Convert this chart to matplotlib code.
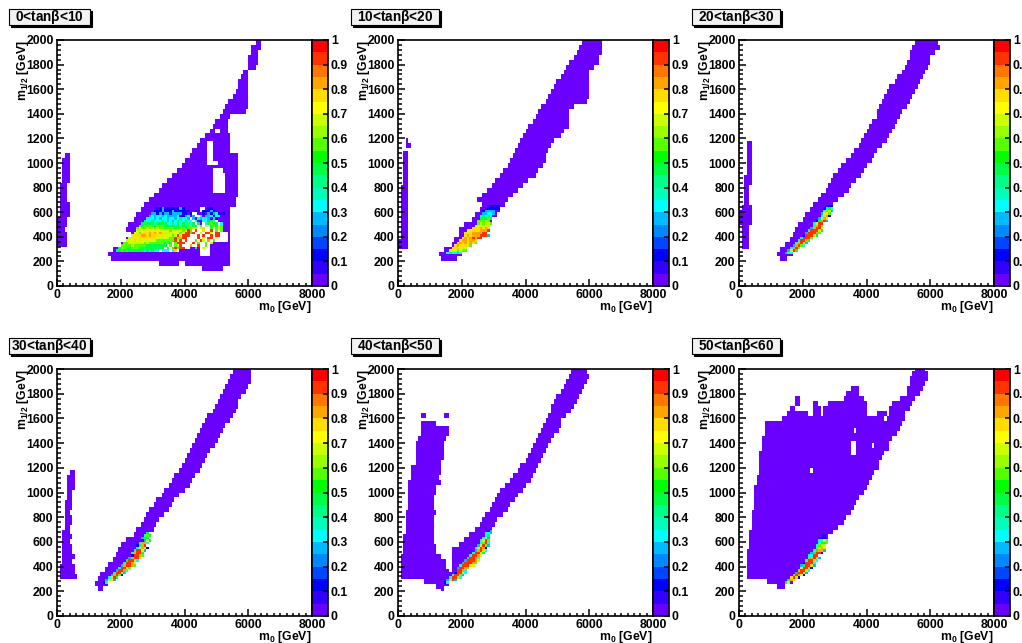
import numpy as np
import matplotlib
matplotlib.use("Agg")
import matplotlib.pyplot as plt
from matplotlib.colors import ListedColormap, BoundaryNorm
from matplotlib.patches import Rectangle

plt.rcParams['font.family'] = 'Liberation Sans'
plt.rcParams['font.weight'] = 'bold'
plt.rcParams['mathtext.fontset'] = 'custom'
plt.rcParams['mathtext.rm'] = 'Liberation Sans:bold'
plt.rcParams['mathtext.bf'] = 'Liberation Sans:bold'
plt.rcParams['mathtext.it'] = 'Liberation Sans'

titles = ["0<tan$\\beta$<10", "10<tan$\\beta$<20", "20<tan$\\beta$<30",
          "30<tan$\\beta$<40", "40<tan$\\beta$<50", "50<tan$\\beta$<60"]
x_ticks = [0, 2000, 4000, 6000, 8000]
y_ticks = [0, 200, 400, 600, 800, 1000, 1200, 1400, 1600, 1800, 2000]
z_ticks = [0, 0.1, 0.2, 0.3, 0.4, 0.5, 0.6, 0.7, 0.8, 0.9, 1]
z_labels = ["0", "0.1", "0.2", "0.3", "0.4", "0.5", "0.6", "0.7", "0.8", "0.9", "1"]
palette = ["#6a00ff", "#3300ff", "#0000ff", "#0045ff", "#0088ff", "#00bbff", "#00ffff",
           "#00ffbb", "#00ff88", "#00ff44", "#00ff00", "#55ff00", "#99ff00", "#ccff00",
           "#ffff00", "#ffdd00", "#ffa500", "#ff7700", "#ff3300", "#ff0000"]

# purple areas: rows are 40 GeV high, m12 is the row's lower edge
t1_strip_m12 = [320, 360, 400, 440, 480, 520, 560, 600, 640, 680, 720, 760, 800, 840, 880, 920, 960, 1000, 1040]
t1_strip_lo = [60, 60, 60, 60, 60, 60, 80, 80, 100, 100, 110, 110, 130, 160, 170, 170, 190, 220, 250]
t1_strip_hi = [260, 260, 260, 230, 300, 260, 330, 330, 330, 250, 250, 250, 250, 330, 330, 330, 330, 350, 350]
t1_wedge_m12 = [200, 240, 280, 320, 360, 400, 440, 480, 520, 560, 600, 640, 680, 720, 760, 800, 840, 880, 920, 960,
                1000, 1040, 1080, 1120, 1160, 1200, 1240, 1280, 1320, 1360, 1400, 1440, 1480, 1520, 1560, 1600,
                1640, 1680, 1720]
t1_wedge_lo = [1740, 1620, 1800, 2000, 2180, 2330, 2200, 2300, 2430, 2530, 2650, 2750, 2930, 3070, 3200, 3350, 3500,
               3650, 3800, 3950, 4020, 4200, 4280, 4420, 4550, 4700, 4800, 4950, 5020, 5100, 5200, 5300, 5430, 5530,
               5600, 5680, 5750, 5800, 5900]
t1_wedge_hi = [5440, 5440, 5440, 5440, 5440, 5440, 5440, 5440, 5440, 5440, 5440, 5540, 5560, 5620, 5620, 5650, 5650,
               5650, 5650, 5650, 5650, 5650, 5400, 5440, 5400, 5400, 5350, 5350, 5300, 5400, 5900, 6000, 6000, 6000,
               6000, 6000, 6000, 5950, 5950]
t1_extra_m12 = [120, 160, 160, 160, 1760, 1800, 1840, 1880, 1920, 1960]
t1_extra_lo = [4560, 3240, 4000, 4600, 6050, 6070, 6070, 6090, 6120, 6280]
t1_extra_hi = [5200, 3800, 4500, 5440, 6200, 6300, 6300, 6300, 6330, 6380]
t1_hole_m12 = [240, 280, 320, 360, 400, 440, 560, 600, 760, 800, 840, 880, 920, 980, 1020, 1060, 1100, 1140, 1240, 1360]
t1_hole_lo = [4550, 4550, 4500, 4500, 4600, 4650, 4300, 4500, 4920, 4920, 4920, 4920, 4920, 4720, 4720, 4720, 4720, 4720, 5000, 5050]
t1_hole_hi = [4800, 4800, 4800, 5300, 5300, 4800, 4400, 4600, 5280, 5280, 5280, 5280, 5200, 5020, 4880, 4880, 4880, 4880, 5060, 5100]

t2_strip_m12 = [300, 340, 380, 420, 460, 500, 540, 580, 620, 660, 700, 740, 780, 820, 860, 900, 940, 980, 1020, 1060, 1120, 1160]
t2_strip_lo = [30, 30, 100, 100, 100, 100, 100, 100, 100, 100, 100, 100, 100, 160, 160, 160, 160, 160, 160, 160, 240, 240]
t2_strip_hi = [315, 315, 260, 315, 315, 315, 315, 315, 315, 315, 315, 315, 315, 315, 315, 315, 315, 315, 315, 315, 380, 320]
t2_band_m12 = [200, 240, 280, 320, 360, 400, 440, 480, 520, 560, 600, 640, 680, 720, 760, 800, 840, 880, 920, 960,
               1000, 1040, 1080, 1120, 1160, 1200, 1240, 1280, 1320, 1360, 1400, 1440, 1480, 1520, 1560, 1600,
               1640, 1680, 1720, 1760, 1800, 1840, 1880, 1920, 1960]
t2_band_lo = [1400, 1300, 1500, 1700, 1800, 1950, 1950, 2150, 2350, 2400, 2600, 2650, 2550, 2650, 2850, 2980, 3080,
              3200, 3300, 3450, 3520, 3600, 3680, 3780, 3880, 3950, 4030, 4130, 4250, 4350, 4450, 4530, 4680, 4780,
              4850, 4950, 5020, 5150, 5250, 5350, 5420, 5550, 5650, 5700, 5800]
t2_band_hi = [1800, 1950, 2150, 2300, 2400, 2550, 2750, 2850, 2950, 3050, 3200, 3300, 3430, 3600, 3750, 3900, 4050,
              4250, 4350, 4500, 4570, 4640, 4700, 4760, 4850, 5080, 5150, 5300, 5330, 5350, 5350, 5500, 5900, 5950,
              6000, 6000, 6000, 5950, 6000, 6150, 6250, 6300, 6400, 6400, 6400]

t3_strip_m12 = [300, 340, 380, 420, 460, 500, 540, 580, 620, 660, 700, 740, 780, 820, 860, 900, 940, 980, 1020, 1060, 1100, 1140]
t3_strip_lo = [100, 100, 100, 100, 100, 70, 70, 70, 80, 170, 170, 170, 170, 170, 170, 240, 240, 240, 280, 290, 290, 300]
t3_strip_hi = [320, 320, 320, 320, 320, 370, 400, 330, 330, 300, 290, 290, 290, 380, 380, 380, 370, 400, 400, 400, 400, 400]
t3_band_m12 = t2_band_m12
t3_band_lo = [1350, 1240, 1320, 1500, 1620, 1730, 1820, 1900, 2000, 2080, 2240, 2380, 2520, 2620, 2760, 2860, 2940,
              3020, 3150, 3270, 3400, 3560, 3660, 3760, 3880, 3980, 4050, 4120, 4210, 4320, 4370, 4440, 4540, 4620,
              4690, 4780, 4880, 5020, 5130, 5200, 5280, 5370, 5400, 5500, 5560]
t3_band_hi = [1520, 1650, 1800, 1950, 2100, 2260, 2400, 2520, 2640, 2780, 2860, 2960, 3060, 3220, 3380, 3520, 3660,
              3800, 3900, 4000, 4100, 4200, 4320, 4450, 4580, 4680, 4740, 4820, 4940, 5020, 5120, 5220, 5350, 5430,
              5480, 5540, 5620, 5700, 5800, 5880, 5950, 6000, 6100, 6250, 6180]

t4_strip_m12 = [310, 350, 390, 430, 470, 510, 550, 590, 630, 670, 710, 750, 790, 830, 870, 910, 950, 990, 1030, 1070, 1110, 1150]
t4_strip_lo = [100, 100, 130, 160, 180, 190, 200, 200, 200, 210, 250, 250, 250, 250, 250, 280, 330, 360, 370, 370, 380, 420]
t4_strip_hi = [580, 500, 520, 460, 520, 440, 480, 400, 440, 370, 370, 460, 460, 400, 420, 440, 470, 470, 540, 540, 540, 540]
t4_band_m12 = t2_band_m12
t4_band_lo = [1300, 1250, 1300, 1400, 1550, 1660, 1780, 1880, 1950, 2060, 2200, 2400, 2520, 2680, 2780, 2860, 2950,
              3060, 3150, 3290, 3420, 3530, 3630, 3730, 3840, 3940, 4030, 4080, 4200, 4290, 4360, 4450, 4500, 4600,
              4680, 4780, 4880, 5000, 5100, 5180, 5240, 5310, 5420, 5480, 5540]
t4_band_hi = [1430, 1560, 1700, 1800, 1930, 2060, 2240, 2320, 2470, 2600, 2750, 2870, 3000, 3100, 3200, 3300, 3450,
              3560, 3680, 3820, 3970, 4120, 4220, 4300, 4420, 4500, 4600, 4700, 4800, 4900, 5000, 5080, 5150, 5250,
              5400, 5500, 5540, 5620, 5680, 5750, 5900, 6000, 6010, 6010, 6010]

t5_blob_m12 = [300, 340, 380, 420, 460, 500, 540, 580, 620, 660, 700, 740, 780, 820, 860, 900, 940, 980, 1020, 1060, 1100,
               1140, 1180, 1220, 1260, 1300, 1340, 1380, 1420, 1460, 1500, 1540, 1600, 1600]
t5_blob_lo = [140, 140, 140, 140, 140, 170, 190, 210, 210, 250, 290, 300, 310, 310, 320, 340, 350, 370, 380, 390, 440,
              460, 470, 590, 600, 620, 630, 630, 700, 730, 730, 730, 790, 1500]
t5_blob_hi = [1650, 1600, 1450, 1500, 1300, 1200, 1150, 1100, 1100, 1100, 1100, 1100, 1100, 1150, 1100, 1100, 1100, 1130,
              1180, 1300, 1250, 1350, 1350, 1330, 1370, 1390, 1410, 1420, 1480, 1550, 1550, 1200, 860, 1560]
t5_low_m12 = [220, 260]
t5_low_lo = [1200, 870]
t5_low_hi = [1400, 1400]
t5_band_m12 = t2_band_m12
t5_band_lo = [1360, 1230, 1480, 1650, 1700, 1700, 1700, 1680, 1750, 1990, 2100, 2280, 2430, 2560, 2680, 2780, 2880,
              2980, 3070, 3170, 3270, 3390, 3540, 3670, 3760, 3900, 4010, 4090, 4170, 4260, 4330, 4430, 4530, 4600,
              4650, 4740, 4810, 4850, 4930, 5030, 5150, 5240, 5290, 5400, 5460]
t5_band_hi = [1420, 1560, 1730, 1880, 2050, 2200, 2330, 2450, 2530, 2650, 2730, 2830, 2930, 3030, 3120, 3260, 3400,
              3510, 3620, 3740, 3860, 3990, 4090, 4200, 4280, 4350, 4430, 4500, 4600, 4700, 4780, 4880, 4970, 5050,
              5100, 5240, 5420, 5500, 5560, 5620, 5720, 5780, 5850, 5930, 5900]

t6_main_m12 = [300, 340, 380, 420, 460, 500, 540, 580, 620, 660, 700, 740, 780, 820, 860, 900, 940, 980, 1020, 1060, 1100,
               1140, 1180, 1220, 1260, 1300, 1340, 1380, 1420, 1460, 1500, 1540]
t6_main_lo = [240, 240, 250, 280, 290, 300, 320, 350, 370, 380, 400, 420, 450, 470, 480, 510, 530, 540, 550, 600, 620,
              640, 650, 680, 690, 710, 740, 760, 790, 800, 820, 870]
t6_main_hi = [1700, 1900, 2050, 2200, 2350, 2500, 2600, 2720, 2800, 2950, 3100, 3260, 3340, 3450, 3600, 3640, 3750, 3900,
              3950, 4050, 4150, 4220, 4350, 4370, 4480, 4540, 4650, 4700, 4800, 4920, 4980, 5080]
t6_top_m12 = [220, 260, 1580, 1580, 1620, 1620, 1620, 1620, 1620, 1660, 1660, 1660, 1660, 1700, 1700, 1700, 1700, 1740, 1740, 1740,
              1780, 1780, 1820, 1820, 1860, 1900, 1940, 1980]
t6_top_lo = [1230, 920, 1400, 4700, 1550, 2330, 2690, 4360, 4730, 1600, 2380, 2700, 4790, 1810, 2330, 2860, 4860, 1810, 3330, 5100,
             3400, 5280, 3590, 5350, 5400, 5430, 5470, 5520]
t6_top_hi = [1440, 1650, 4500, 5200, 2120, 2540, 4000, 4580, 5200, 1760, 2540, 3990, 5310, 1920, 2440, 3950, 5420, 1860, 3900, 5500,
             3750, 5620, 3700, 5720, 5800, 5900, 5900, 5800]
t6_hole_m12 = [1160, 1300, 1340, 1380, 1480, 1360]
t6_hole_lo = [2260, 3540, 3540, 3540, 3610, 4170]
t6_hole_hi = [2310, 3630, 3630, 3630, 3670, 4230]

# coloured cells, 20 GeV rows and 80 GeV columns. digit = tenths of z, "-" keeps what is there, "_" is empty
t1_core_m12 = [620, 600, 580, 560, 540, 520, 500, 480, 460, 440, 420, 400, 380, 360, 340, 320, 300, 280]
t1_core_m0 = [3120, 3040, 2960, 2880, 2800, 2720, 2640, 2560, 2480, 2480, 2400, 2320, 2240, 2160, 2080, 2000, 1920, 1840]
t1_core_z = ["01201110121---------01",
             "11121112111100--1--11121",
             "22121221222211-1----1-2123101",
             "2323323222231123-2-_3-223133",
             "33323233233234332_2-32332-41",
             "4334333432323433433_3--33243_-",
             "444443444433434343534_4-_34544_3",
             "54555545554444445445544_5_6_45465",
             "565565656555555455545566_67__5_565",
             "6767676766666566665698_9__7__9_5_5",
             "665777878787676666579949__6_996_99",
             "67778878777676665696999___9_9__9_99",
             "66767777777666665595899____9_6_99_6",
             "6667676666665555555969_9___5_96_8_5",
             "5566666656555555454_5999___9_5__5_6",
             "555565555544444444_5_569___8__9__5",
             "455445554444444444_4_59599__--4--6",
             "44545444444343433_333_37_--"]
t2_core_m12 = [640, 620, 600, 580, 560, 540, 520, 500, 480, 460, 440, 420, 400, 380, 360, 340, 320, 300, 280, 260]
t2_core_m0 = [2800, 2720, 2640, 2640, 2560, 2560, 2480, 2480, 2400, 2320, 2160, 2080, 2080, 2000, 1920, 1840, 1760, 1680, 1600, 1520]
t2_core_z = ["00011", "011111", "12222", "22332", "34343", "44454", "55565", "565665", "666676", "7778787",
             "667778889", "777888899", "7878889992", "78789899", "7887887", "78787875", "7877775", "777666", "6665655", "343343"]
t3_core_m12 = [640, 620, 600, 580, 560, 540, 520, 500, 480, 460, 440, 420, 400, 380, 360, 340, 320, 300, 280, 260]
t3_core_m0 = [2720, 2640, 2640, 2560, 2560, 2480, 2400, 2320, 2320, 2240, 2160, 2080, 2000, 1920, 1840, 1760, 1680, 1600, 1520, 1440]
t3_core_z = ["011", "1343", "3562", "2675", "3781", "2687", "14892", "3699", "5895", "28996", "399964", "299985", "199974",
             "39995", "39984", "38962", "28953", "3895", "2794", "253"]
t4_core_m12 = [660, 640, 620, 600, 580, 560, 540, 520, 500, 480, 460, 440, 420, 400, 380, 360, 340, 320, 300, 280, 260]
t4_core_m0 = [2800, 2720, 2640, 2640, 2560, 2480, 2480, 2400, 2320, 2320, 2240, 2160, 2080, 2000, 1920, 1840, 1760, 1680, 1600, 1520, 1440]
t4_core_z = ["4", "354", "244", "0274", "3883", "1489", "37861", "39962", "38994", "19985", "28996", "49973", "39986",
             "289985", "39975", "29983", "39962", "28951", "3794", "2672", "13"]
t5_core_m12 = [680, 660, 640, 620, 600, 580, 560, 540, 520, 500, 480, 460, 440, 420, 400, 380, 360, 340, 320, 300, 280, 260]
t5_core_m0 = [2800, 2720, 2720, 2640, 2560, 2560, 2480, 2400, 2400, 2320, 2240, 2160, 2080, 2000, 1920, 1840, 1840, 1760, 1680, 1600, 1520, 1440]
t5_core_z = ["02", "332", "34", "372", "3795", "3593", "26952", "37981", "28973", "39974", "39986", "49983", "299986", "299985",
             "399976", "29985", "9983", "19963", "39952", "39973", "2792", "13"]
t6_core_m12 = [640, 620, 600, 580, 560, 540, 520, 500, 480, 460, 440, 420, 400, 380, 360, 340, 320, 300, 280, 260]
t6_core_m0 = [2560, 2480, 2480, 2480, 2400, 2400, 2320, 2240, 2160, 2160, 2080, 2000, 1920, 1920, 1840, 1760, 1680, 1600, 1520, 1440]
t6_core_z = ["00", "011", "3565", "3445", "3566", "5786", "34882", "24991", "3399", "58972", "39973", "19993", "249972",
             "79961", "59963", "29962", "59861", "7971", "487", "46"]

# bands and holes for each panel, in the same order as titles
filled = [[(t1_strip_m12, t1_strip_lo, t1_strip_hi), (t1_wedge_m12, t1_wedge_lo, t1_wedge_hi), (t1_extra_m12, t1_extra_lo, t1_extra_hi)],
          [(t2_strip_m12, t2_strip_lo, t2_strip_hi), (t2_band_m12, t2_band_lo, t2_band_hi)],
          [(t3_strip_m12, t3_strip_lo, t3_strip_hi), (t3_band_m12, t3_band_lo, t3_band_hi)],
          [(t4_strip_m12, t4_strip_lo, t4_strip_hi), (t4_band_m12, t4_band_lo, t4_band_hi)],
          [(t5_blob_m12, t5_blob_lo, t5_blob_hi), (t5_low_m12, t5_low_lo, t5_low_hi), (t5_band_m12, t5_band_lo, t5_band_hi)],
          [(t6_main_m12, t6_main_lo, t6_main_hi), (t6_top_m12, t6_top_lo, t6_top_hi)]]
holes = [(t1_hole_m12, t1_hole_lo, t1_hole_hi), None, None, None, None, (t6_hole_m12, t6_hole_lo, t6_hole_hi)]
cores = [(t1_core_m12, t1_core_m0, t1_core_z), (t2_core_m12, t2_core_m0, t2_core_z), (t3_core_m12, t3_core_m0, t3_core_z),
         (t4_core_m12, t4_core_m0, t4_core_z), (t5_core_m12, t5_core_m0, t5_core_z), (t6_core_m12, t6_core_m0, t6_core_z)]

W, H = 1022, 643
x_edges = np.arange(0, 8001, 80)
y_edges = np.arange(0, 2001, 20)
cmap = ListedColormap(palette)
norm = BoundaryNorm(np.linspace(0, 1, 21), 20)


def make_grid(spans, hole, core):
    z = np.full((100, 100), np.nan)
    for m12, lo, hi in spans:
        for y, a, b in zip(m12, lo, hi):
            z[y // 20:(y + 40) // 20, a // 80:int(np.ceil(b / 80))] = 0.01
    if hole:
        for y, a, b in zip(*hole):
            z[y // 20:(y + 40) // 20, a // 80:int(np.ceil(b / 80))] = np.nan
    for y, x, vals in zip(*core):
        for k, c in enumerate(vals):
            i = x // 80 + k
            if c == "_":
                z[y // 20, i] = np.nan
            elif c != "-":
                z[y // 20, i] = (int(c) + 0.5) / 10
    return np.ma.masked_invalid(z)


def px_axes(fig, x0, x1, y0, y1):
    return fig.add_axes([x0 / W, 1 - y1 / H, (x1 - x0) / W, (y1 - y0) / H])


fig = plt.figure(figsize=(W / 100, H / 100), dpi=100)
px = 0.72

frame_x = [(57, 312), (398, 653), (739, 994)]
frame_y = [(40, 286), (369, 616)]
box_x = [(9, 90), (351, 439), (692, 780)]
box_y = [(9, 25), (338, 354)]

for n in range(6):
    col, row = n % 3, n // 3
    x0, x1 = frame_x[col]
    y0, y1 = frame_y[row]
    ax = px_axes(fig, x0, x1, y0, y1)
    ax.pcolormesh(x_edges, y_edges, make_grid(filled[n], holes[n], cores[n]), cmap=cmap, norm=norm,
                  antialiased=False, linewidth=0)
    ax.set_xlim(0, 8000)
    ax.set_ylim(0, 2000)
    ax.set_xticks(x_ticks)
    ax.set_yticks(y_ticks)
    ax.set_xticks(np.arange(0, 8001, 200), minor=True)
    ax.set_yticks(np.arange(0, 2001, 40), minor=True)
    ax.tick_params(which='major', direction='in', length=7 * px, width=1.1, labelsize=8.8, pad=2.5)
    ax.tick_params(which='minor', direction='in', length=3.5 * px, width=1.1)
    for s in ax.spines.values():
        s.set_linewidth(1.2)
    ax.text(1.0, -0.085, "m$_{0}$ [GeV]", transform=ax.transAxes, ha='right', va='center', fontsize=8.8)
    ax.text(-0.135, 1.0, "m$_{1/2}$ [GeV]", transform=ax.transAxes, ha='center', va='top', rotation=90, fontsize=8.8)

    cb = px_axes(fig, x1, x1 + 16, y0, y1)
    cb.pcolormesh([0, 1], np.linspace(0, 1, 21), np.linspace(0.025, 0.975, 20).reshape(-1, 1), cmap=cmap, norm=norm)
    cb.set_xticks([])
    cb.yaxis.tick_right()
    cb.set_yticks(z_ticks)
    cb.set_yticklabels(z_labels)
    cb.tick_params(axis='y', direction='in', length=5.5 * px, width=1.1, labelsize=8.8, pad=2)
    for s in cb.spines.values():
        s.set_linewidth(1.2)

    bx0, bx1 = box_x[col]
    by0, by1 = box_y[row]
    fig.add_artist(Rectangle((bx0 / W + 2 / W, 1 - by1 / H - 2 / H), (bx1 - bx0) / W, (by1 - by0) / H,
                             transform=fig.transFigure, fc='black', ec='black', lw=0.8))
    fig.add_artist(Rectangle((bx0 / W, 1 - by1 / H), (bx1 - bx0) / W, (by1 - by0) / H,
                             transform=fig.transFigure, fc='#f2f2f2', ec='black', lw=0.8))
    fig.text((bx0 + bx1) / 2 / W, 1 - (by0 + by1) / 2 / H, titles[n], ha='center', va='center', fontsize=9.8)

fig.savefig("out.png", dpi=100)
